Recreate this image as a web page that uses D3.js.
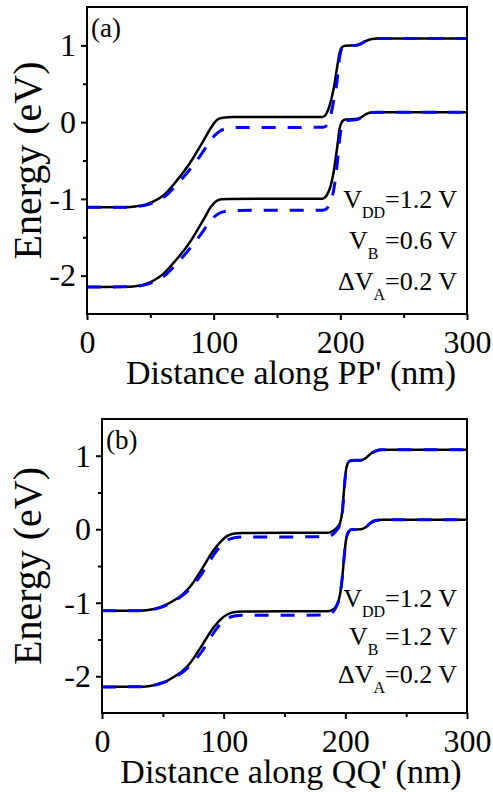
<!DOCTYPE html>
<html>
<head>
<meta charset="utf-8">
<script src="https://cdn.jsdelivr.net/npm/d3@7"></script>
<style>
  body { margin: 0; background: #fff; }
  svg { display: block; }
  svg text { font-family: "Liberation Serif", "Times New Roman", serif; }
</style>
</head>
<body>
<div id="chart"></div>
<script>
// ---- data (x in nm, energy in eV) ----
var xTicks = [0, 100, 200, 300];
var xMinor = [50, 150, 250];
var yTicks = [-2, -1, 0, 1];
var yMinor = [-1.5, -0.5, 0.5];

var aUpperSolid = [[0,-1.11],[30,-1.108],[38,-1.10],[46,-1.075],[53,-1.03],[60,-0.96],[68,-0.82],[81,-0.54],[92,-0.24],[98,-0.07],[102,0.02],[106,0.055],[112,0.065],[186,0.068],[189,0.11],[192,0.24],[195,0.46],[197.5,0.72],[199.5,0.91],[201.5,0.98],[204,0.995],[212,1.0],[216,1.02],[220,1.055],[224,1.08],[229,1.09],[300,1.09]];
var aUpperDash  = [[0,-1.11],[30,-1.108],[39,-1.10],[48,-1.075],[55,-1.03],[62,-0.96],[70,-0.83],[82,-0.60],[91,-0.40],[97,-0.25],[101,-0.17],[105,-0.115],[110,-0.085],[118,-0.07],[186,-0.068],[188,-0.06],[190,-0.01],[192.5,0.10],[195,0.30],[197.3,0.52],[199.5,0.85],[201.5,0.97],[204,0.995],[212,1.0],[216,1.02],[220,1.055],[224,1.08],[229,1.09],[300,1.09]];
var aLowerSolid = [[0,-2.148],[30,-2.146],[38,-2.138],[46,-2.11],[53,-2.06],[60,-1.98],[68,-1.84],[81,-1.57],[92,-1.27],[98,-1.10],[102,-1.03],[106,-1.005],[112,-1.0],[186,-0.998],[189,-0.96],[192,-0.85],[195,-0.62],[197.5,-0.33],[199.5,-0.08],[201.5,0.01],[204,0.035],[212,0.04],[216,0.06],[220,0.10],[224,0.125],[230,0.13],[300,0.13]];
var aLowerDash  = [[0,-2.148],[30,-2.146],[39,-2.138],[48,-2.11],[55,-2.06],[62,-1.99],[70,-1.86],[82,-1.63],[90,-1.46],[96,-1.32],[100,-1.24],[104,-1.19],[110,-1.16],[118,-1.15],[186,-1.148],[189,-1.13],[192,-1.05],[195,-0.86],[197.5,-0.55],[199.5,-0.22],[201.5,-0.02],[204,0.02],[212,0.03],[216,0.05],[220,0.095],[224,0.125],[230,0.13],[300,0.13]];

var bUpperSolid = [[0,-1.11],[30,-1.108],[38,-1.10],[46,-1.07],[53,-1.025],[60,-0.96],[66,-0.89],[72,-0.79],[81,-0.57],[92,-0.28],[98,-0.16],[103,-0.09],[108,-0.06],[115,-0.05],[186,-0.048],[190,-0.02],[193,0.02],[195.5,0.08],[197.5,0.25],[199,0.55],[200.5,0.80],[202.5,0.91],[205,0.935],[213,0.94],[217,0.97],[221,1.03],[225,1.065],[230,1.08],[300,1.08]];
var bUpperDash  = [[0,-1.11],[30,-1.108],[39,-1.10],[47,-1.07],[54,-1.025],[61,-0.96],[67,-0.89],[73,-0.80],[83,-0.58],[93,-0.32],[99,-0.20],[104,-0.14],[109,-0.115],[115,-0.105],[184,-0.103],[188,-0.09],[192,-0.03],[195.5,0.06],[197.5,0.22],[199,0.53],[200.5,0.80],[202.5,0.91],[205,0.935],[213,0.94],[217,0.97],[221,1.03],[225,1.065],[230,1.08],[300,1.08]];
var bLowerSolid = [[0,-2.145],[30,-2.143],[38,-2.135],[46,-2.105],[53,-2.065],[60,-2.0],[66,-1.93],[72,-1.83],[81,-1.61],[92,-1.33],[98,-1.22],[103,-1.16],[108,-1.13],[115,-1.118],[186,-1.115],[190,-1.09],[193,-1.03],[195.5,-0.90],[197.5,-0.65],[199,-0.38],[200.5,-0.15],[202.5,-0.04],[205,-0.005],[213,0.0],[217,0.03],[221,0.09],[225,0.12],[230,0.128],[300,0.128]];
var bLowerDash  = [[0,-2.145],[30,-2.143],[39,-2.135],[47,-2.105],[54,-2.065],[61,-2.0],[67,-1.935],[73,-1.845],[83,-1.64],[93,-1.38],[99,-1.26],[104,-1.205],[109,-1.18],[115,-1.17],[184,-1.168],[188,-1.15],[192,-1.07],[195.5,-0.90],[197.5,-0.66],[199,-0.38],[200.5,-0.15],[202.5,-0.04],[205,-0.005],[213,0.0],[217,0.03],[221,0.09],[225,0.12],[230,0.128],[300,0.128]];

var notesA = [['V', 'DD', '=1.2 V'], ['V', 'B', ' =0.6 V'], ['\u0394V', 'A', '=0.2 V']];
var notesB = [['V', 'DD', '=1.2 V'], ['V', 'B', ' =1.2 V'], ['\u0394V', 'A', '=0.2 V']];

(function () {
  'use strict';

  var COL = { solid: '#000', dash: '#0000ff', ink: '#000' };

  var W = 493, H = 792;
  var svg = d3.select('#chart').append('svg')
    .attr('width', W).attr('height', H);

  function fmt(d) { return String(d); }

  function drawPanel(p) {
    var x = d3.scaleLinear().domain([0, 300]).range([p.left, p.right]);
    var y = d3.scaleLinear().domain([-2.5, 1.5]).range([p.bottom, p.top]);
    var g = svg.append('g');

    // minor ticks
    g.append('g').attr('transform', 'translate(0,' + p.bottom + ')')
      .call(d3.axisBottom(x).tickValues(xMinor).tickSize(4).tickFormat(''))
      .call(function (ax) { ax.select('.domain').remove(); });
    g.append('g').attr('transform', 'translate(' + p.left + ',0)')
      .call(d3.axisLeft(y).tickValues(yMinor).tickSize(4).tickFormat(''))
      .call(function (ax) { ax.select('.domain').remove(); });

    // major ticks
    g.append('g').attr('transform', 'translate(0,' + p.bottom + ')')
      .call(d3.axisBottom(x).tickValues(xTicks).tickFormat(fmt).tickSize(6).tickPadding(10))
      .call(function (ax) {
        ax.select('.domain').remove();
        ax.selectAll('text').attr('font-size', 32).attr('fill', COL.ink);
      });
    g.append('g').attr('transform', 'translate(' + p.left + ',0)')
      .call(d3.axisLeft(y).tickValues(yTicks).tickFormat(fmt).tickSize(6).tickPadding(5))
      .call(function (ax) {
        ax.select('.domain').remove();
        ax.selectAll('text').attr('font-size', 32).attr('fill', COL.ink);
      });
    g.selectAll('.tick line').attr('stroke', COL.ink).attr('stroke-width', 2);

    // curves
    var line = d3.line()
      .x(function (d) { return x(d[0]); })
      .y(function (d) { return y(d[1]); })
      .curve(d3.curveMonotoneX);

    var plot = g.append('g');
    p.solid.forEach(function (s) {
      plot.append('path').datum(s)
        .attr('fill', 'none').attr('stroke', COL.solid)
        .attr('stroke-width', 2.5).attr('d', line);
    });
    p.dash.forEach(function (s) {
      plot.append('path').datum(s)
        .attr('fill', 'none').attr('stroke', COL.dash)
        .attr('stroke-width', 3).attr('stroke-dasharray', '14,12')
        .attr('d', line);
    });

    // frame
    g.append('rect')
      .attr('x', p.left).attr('y', p.top)
      .attr('width', p.right - p.left).attr('height', p.bottom - p.top)
      .attr('fill', 'none').attr('stroke', COL.ink).attr('stroke-width', 2);

    // panel label
    g.append('text').attr('x', p.left + 4).attr('y', p.top + 30)
      .attr('font-size', 27).text(p.label);

    // axis titles
    g.append('text')
      .attr('x', 291).attr('y', p.bottom + 70)
      .attr('text-anchor', 'middle').attr('font-size', 34)
      .text(p.xTitle);
    g.append('text')
      .attr('transform', 'translate(41,' + ((p.top + p.bottom) / 2) + ') rotate(-90)')
      .attr('text-anchor', 'middle').attr('font-size', 40)
      .text('Energy (eV)');

    // parameter notes
    p.notes.forEach(function (n, i) {
      var t = g.append('text')
        .attr('x', 457).attr('y', p.noteY + i * p.noteGap)
        .attr('text-anchor', 'end').attr('font-size', 26);
      t.append('tspan').text(n[0]);
      t.append('tspan').attr('dy', 10).attr('font-size', 16).text(n[1]);
      t.append('tspan').attr('dy', -10).text(n[2]);
    });
  }

  drawPanel({
    left: 87, right: 467, top: 7, bottom: 314,
    label: '(a)', xTitle: "Distance along PP' (nm)",
    solid: [aUpperSolid, aLowerSolid], dash: [aUpperDash, aLowerDash],
    notes: notesA, noteY: 208, noteGap: 41
  });
  drawPanel({
    left: 102, right: 467, top: 419, bottom: 713,
    label: '(b)', xTitle: "Distance along QQ' (nm)",
    solid: [bUpperSolid, bLowerSolid], dash: [bUpperDash, bLowerDash],
    notes: notesB, noteY: 607, noteGap: 38
  });
}());
</script>
</body>
</html>
